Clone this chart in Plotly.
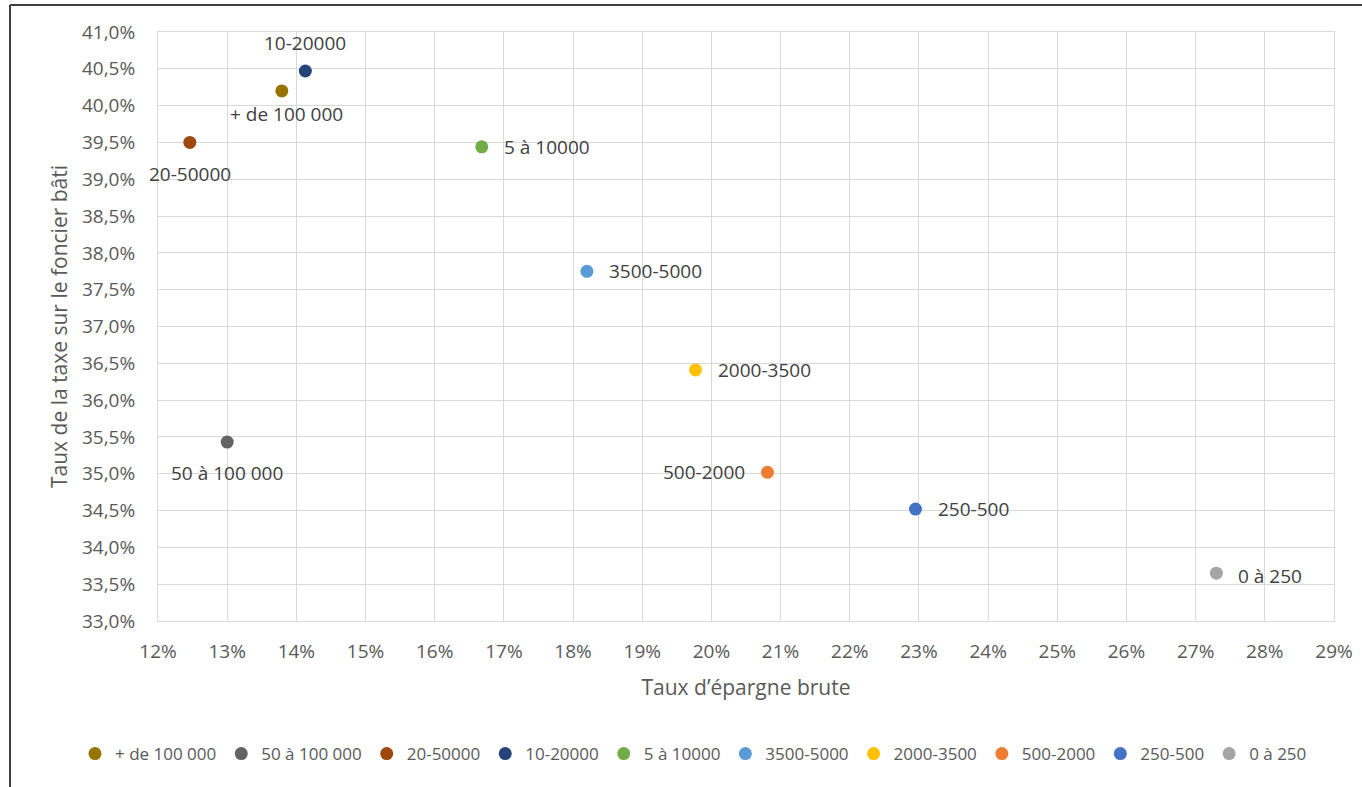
import plotly.graph_objects as go

# ---- data ----
categories = ["+ de 100 000", "50 à 100 000", "20-50000", "10-20000", "5 à 10000",
              "3500-5000", "2000-3500", "500-2000", "250-500", "0 à 250"]
epargne_brute = [13.79, 13.00, 12.46, 14.13, 16.68, 18.20, 19.77, 20.81, 22.95, 27.30]   # x, %
taxe_foncier = [40.20, 35.43, 39.50, 40.47, 39.44, 37.75, 36.41, 35.02, 34.52, 33.65]    # y, %
x_ticks = list(range(12, 30))
y_ticks = [33.0 + 0.5 * i for i in range(17)]

# ---- styles ----
colors = ["#997300", "#636363", "#9E480E", "#264478", "#70AD47",
          "#5B9BD5", "#FFC000", "#ED7D31", "#4472C4", "#A5A5A5"]
# label placement: (xanchor, yanchor, xshift, yshift)
label_place = [
    ("center", "middle", 5, -23),
    ("center", "middle", 0, -31),
    ("center", "middle", 0, -32),
    ("center", "middle", 0, 28),
    ("left", "middle", 20, 0),
    ("left", "middle", 20, 0),
    ("left", "middle", 20, 0),
    ("right", "middle", -20, 0),
    ("left", "middle", 21, 0),
    ("left", "middle", 20, -3),
]

FONT = "Open Sans"
fig = go.Figure()
for name, xv, yv, c in zip(categories, epargne_brute, taxe_foncier, colors):
    fig.add_trace(go.Scatter(x=[xv], y=[yv], mode="markers", name=name,
                             marker=dict(size=13, color=c),
                             hoverinfo="x+y+name"))

annotations = []
for name, xv, yv, (xa, ya, xs, ys) in zip(categories, epargne_brute, taxe_foncier, label_place):
    annotations.append(dict(x=xv, y=yv, xref="x", yref="y", text=name, showarrow=False,
                            xanchor=xa, yanchor=ya, xshift=xs, yshift=ys,
                            font=dict(family=FONT, size=19, color="#404040")))

W, H = 1362, 787
L, R, T, B = 158, 28, 32, 166
pw, ph = W - L - R, H - T - B
def px_x(p):
    return (p - L) / pw
def px_y(p):
    return (H - B - p) / ph

shapes = [
    dict(type="line", xref="paper", yref="paper", x0=px_x(10), x1=px_x(10),
         y0=px_y(5), y1=px_y(H + 5), line=dict(color="#404040", width=2)),
    dict(type="line", xref="paper", yref="paper", x0=px_x(10), x1=px_x(W + 5),
         y0=px_y(5), y1=px_y(5), line=dict(color="#404040", width=2)),
]

fig.update_layout(
    width=W, height=H,
    margin=dict(l=L, r=R, t=T, b=B, autoexpand=False),
    paper_bgcolor="white", plot_bgcolor="white",
    separators=", ",
    font=dict(family=FONT, size=19, color="#595959"),
    showlegend=True,
    legend=dict(orientation="h", xref="paper", x=px_x(75), xanchor="left",
                y=px_y(754), yanchor="middle",
                font=dict(family=FONT, size=17, color="#595959"), itemwidth=30,
                tracegroupgap=0),
    annotations=annotations,
    shapes=shapes,
)
fig.update_xaxes(range=[12, 29], tickmode="array", tickvals=x_ticks,
                 ticktext=[f"{v}%" for v in x_ticks],
                 showgrid=True, gridcolor="#D9D9D9", gridwidth=1,
                 showline=True, linecolor="#D9D9D9", mirror=True, zeroline=False,
                 ticks="", ticklabelstandoff=13,
                 tickfont=dict(family=FONT, size=19, color="#595959"),
                 title=dict(text="Taux d’épargne brute", standoff=17,
                            font=dict(family=FONT, size=21, color="#595959")))
fig.update_yaxes(range=[33, 41], tickmode="array", tickvals=y_ticks,
                 ticktext=[f"{v:.1f}%".replace(".", ",") for v in y_ticks],
                 showgrid=True, gridcolor="#D9D9D9", gridwidth=1,
                 showline=True, linecolor="#D9D9D9", mirror=True, zeroline=False,
                 ticks="", ticklabelstandoff=18,
                 tickfont=dict(family=FONT, size=19, color="#595959"),
                 title=dict(text="Taux de la taxe sur le foncier bâti", standoff=8,
                            font=dict(family=FONT, size=21, color="#595959")))

fig.write_html("out.html")
